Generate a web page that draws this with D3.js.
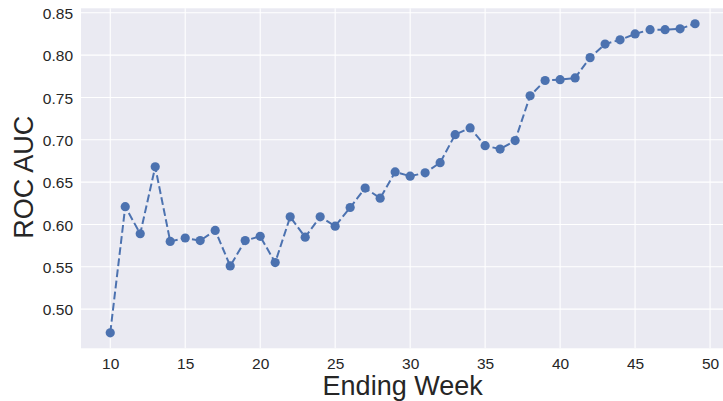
<!DOCTYPE html>
<html>
<head>
<meta charset="utf-8">
<script src="https://cdn.jsdelivr.net/npm/d3@7"></script>
<style>
  body { margin: 0; background: #fff; }
  svg text { font-family: "Liberation Sans", Arial, sans-serif; fill: #262626; }
</style>
</head>
<body>
<script>
// ////////// Data ////////////
var weeks = [10, 11, 12, 13, 14, 15, 16, 17, 18, 19, 20, 21, 22, 23, 24, 25, 26, 27, 28, 29,
             30, 31, 32, 33, 34, 35, 36, 37, 38, 39, 40, 41, 42, 43, 44, 45, 46, 47, 48, 49];
var rocAuc = [0.472, 0.621, 0.589, 0.668, 0.580, 0.584, 0.581, 0.593, 0.551, 0.581,
              0.586, 0.555, 0.609, 0.585, 0.609, 0.598, 0.620, 0.643, 0.631, 0.662,
              0.657, 0.661, 0.673, 0.706, 0.714, 0.693, 0.689, 0.699, 0.752, 0.770,
              0.771, 0.773, 0.797, 0.813, 0.818, 0.825, 0.830, 0.830, 0.831, 0.837];
var xTicks = [10, 15, 20, 25, 30, 35, 40, 45, 50];
var yTicks = [0.50, 0.55, 0.60, 0.65, 0.70, 0.75, 0.80, 0.85];
var xTitle = "Ending Week";
var yTitle = "ROC AUC";

// ////////// svg ////////////
var W = 723, H = 401;
var margin = {top: 8.3, right: -1.3, bottom: 52.7, left: 81};
var width = W - margin.left - margin.right,
    height = H - margin.top - margin.bottom;

var svg = d3.select("body").append("svg")
  .attr("width", W)
  .attr("height", H);

var g = svg.append("g")
  .attr("transform", "translate(" + margin.left + "," + margin.top + ")");

// matplotlib style 5% margins
var xPad = (d3.max(weeks) - d3.min(weeks)) * 0.05;
var yPad = (d3.max(rocAuc) - d3.min(rocAuc)) * 0.05;

var x = d3.scaleLinear()
  .domain([d3.min(weeks) - xPad, d3.max(weeks) + xPad])
  .range([0, width]);
var y = d3.scaleLinear()
  .domain([d3.min(rocAuc) - yPad, d3.max(rocAuc) + yPad])
  .range([height, 0]);

// background
g.append("rect")
  .attr("width", width)
  .attr("height", height)
  .attr("fill", "#EAEAF2");

// grid
g.selectAll("line.vgrid")
  .data(xTicks)
  .enter().append("line")
  .attr("class", "vgrid")
  .attr("x1", function(d) { return x(d); })
  .attr("x2", function(d) { return x(d); })
  .attr("y1", 0).attr("y2", height)
  .attr("stroke", "#fff").attr("stroke-width", 1.1);
g.selectAll("line.hgrid")
  .data(yTicks)
  .enter().append("line")
  .attr("class", "hgrid")
  .attr("x1", 0).attr("x2", width)
  .attr("y1", function(d) { return y(d); })
  .attr("y2", function(d) { return y(d); })
  .attr("stroke", "#fff").attr("stroke-width", 1.1);

// axes (labels only, no domain/ticks)
var xAxis = g.append("g")
  .attr("transform", "translate(0," + height + ")")
  .call(d3.axisBottom(x).tickValues(xTicks).tickSize(0).tickPadding(20.5).tickFormat(d3.format("d")));
var yAxis = g.append("g")
  .call(d3.axisLeft(y).tickValues(yTicks).tickSize(0).tickPadding(8).tickFormat(d3.format(".2f")));
[xAxis, yAxis].forEach(function(a) {
  a.select(".domain").remove();
  a.selectAll("text")
    .attr("fill", "#262626")
    .style("font-size", "15.5px")
    .style("font-family", "'Liberation Sans', Arial, sans-serif");
});
xAxis.selectAll("text").attr("dy", "0");
yAxis.selectAll("text").attr("dy", "0.36em");

// line
var line = d3.line()
  .x(function(d, i) { return x(weeks[i]); })
  .y(function(d) { return y(d); });

g.append("path")
  .datum(rocAuc)
  .attr("d", line)
  .attr("fill", "none")
  .attr("stroke", "#4C72B0")
  .attr("stroke-width", 2)
  .attr("stroke-dasharray", "7.8,3.4");

g.selectAll("circle.pt")
  .data(rocAuc)
  .enter().append("circle")
  .attr("class", "pt")
  .attr("cx", function(d, i) { return x(weeks[i]); })
  .attr("cy", function(d) { return y(d); })
  .attr("r", 4.6)
  .attr("fill", "#4C72B0");

// titles
svg.append("text")
  .attr("x", margin.left + width / 2)
  .attr("y", 395)
  .attr("text-anchor", "middle")
  .style("font-size", "27px")
  .text(xTitle);

svg.append("text")
  .attr("transform", "translate(33," + (margin.top + height / 2 - 1) + ") rotate(-90)")
  .attr("text-anchor", "middle")
  .style("font-size", "27px")
  .text(yTitle);
</script>
</body>
</html>
